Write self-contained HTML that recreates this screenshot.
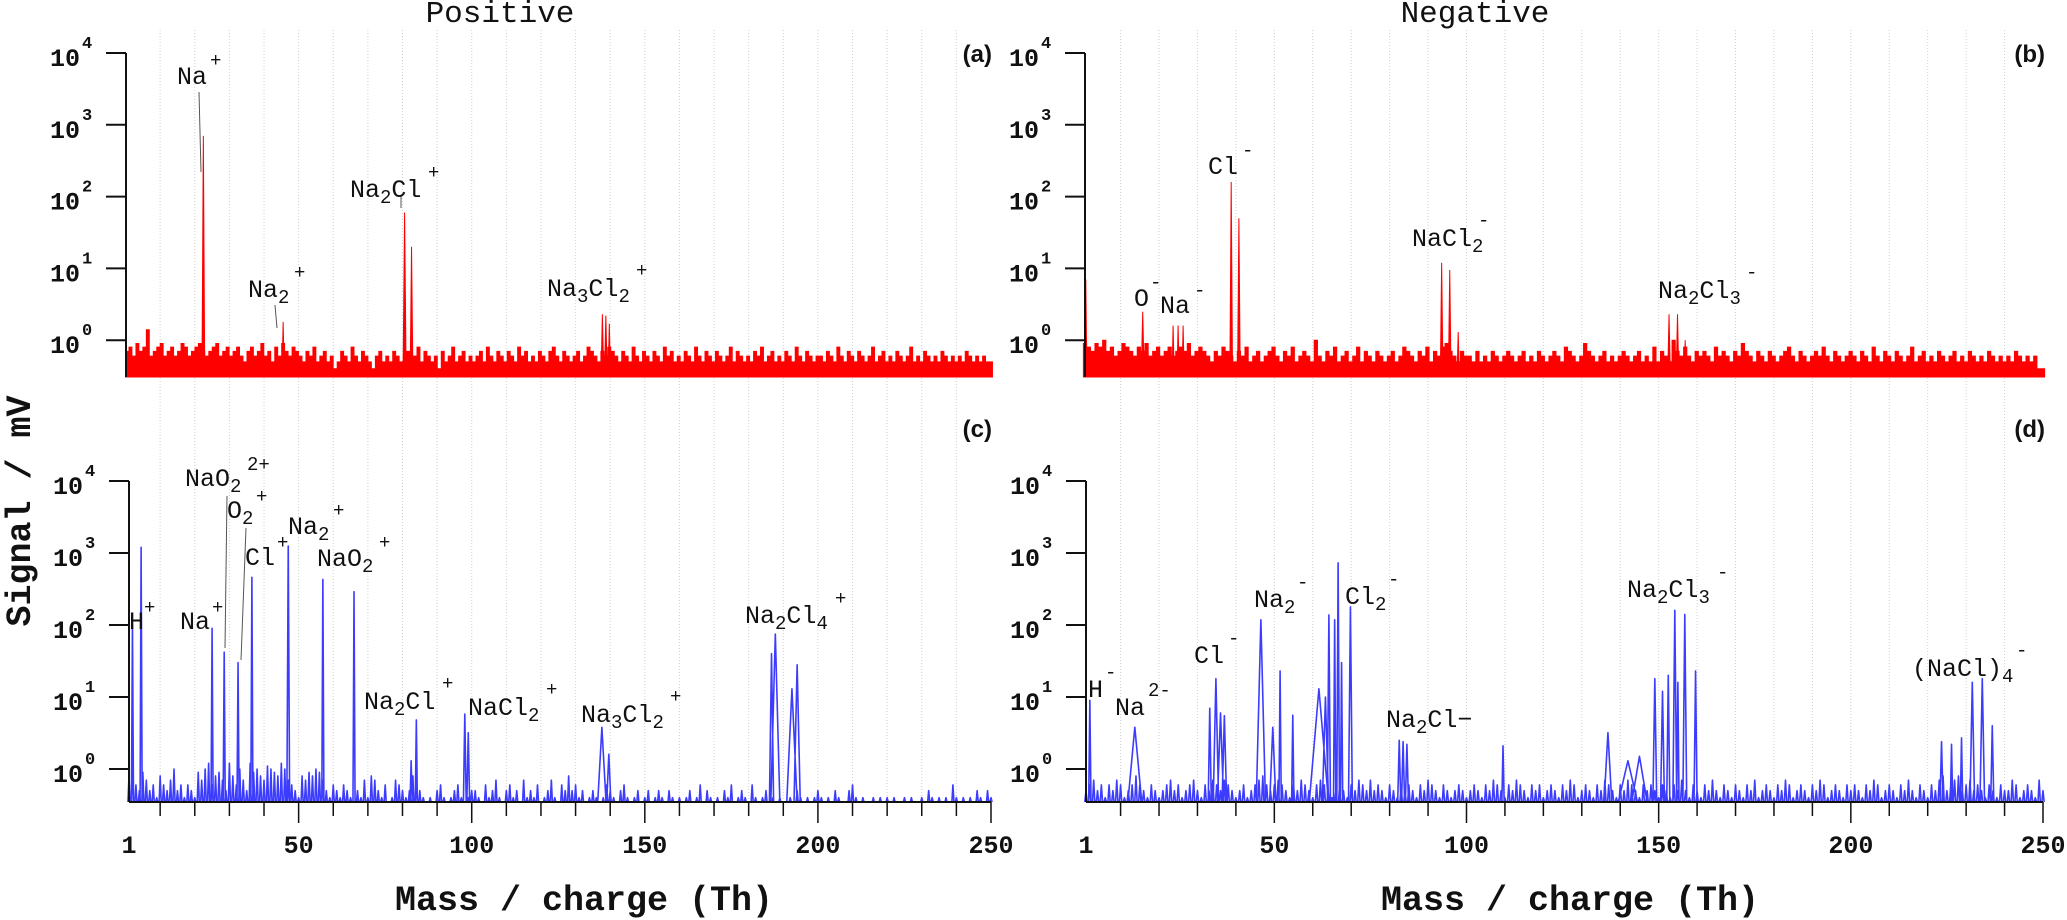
<!DOCTYPE html>
<html><head><meta charset="utf-8">
<style>
html,body{margin:0;padding:0;background:#fff;}
svg{display:block;}
.lab{font-family:"Liberation Mono",monospace;font-size:25px;fill:#111;}
.sup{font-family:"Liberation Mono",monospace;font-size:19px;fill:#111;}
.ytk{font-family:"Liberation Mono",monospace;font-weight:bold;font-size:25px;fill:#111;}
.yex{font-family:"Liberation Mono",monospace;font-weight:bold;font-size:17px;fill:#111;}
.xtk{font-family:"Liberation Mono",monospace;font-weight:bold;font-size:25px;fill:#111;}
.ttl{font-family:"Liberation Mono",monospace;font-size:31px;fill:#111;}
.axt{font-family:"Liberation Mono",monospace;font-weight:bold;font-size:35px;fill:#111;}
.pl{font-family:"Liberation Sans",sans-serif;font-weight:bold;font-size:24px;fill:#111;}
</style></head>
<body>
<svg id="fig" width="2067" height="920" viewBox="0 0 2067 920" xmlns="http://www.w3.org/2000/svg">
<g id="grid"></g>
<g id="marks"></g>
<g id="axes"></g>

<text class="ttl" x="500" y="22" text-anchor="middle">Positive</text>
<text class="ttl" x="1475" y="22" text-anchor="middle">Negative</text>
<text class="axt" transform="translate(30,511) rotate(-90)" text-anchor="middle">Signal / mV</text>
<text class="axt" x="584" y="910" text-anchor="middle">Mass / charge (Th)</text>
<text class="axt" x="1570" y="910" text-anchor="middle">Mass / charge (Th)</text>
<text class="pl" x="992" y="62" text-anchor="end">(a)</text>
<text class="pl" x="2045" y="62" text-anchor="end">(b)</text>
<text class="pl" x="992" y="437" text-anchor="end">(c)</text>
<text class="pl" x="2045" y="437" text-anchor="end">(d)</text>

<g stroke="#555" stroke-width="1">
<line x1="199" y1="92" x2="201" y2="172"/>
<line x1="275" y1="305" x2="277" y2="328"/>
<line x1="401" y1="196" x2="401" y2="208"/>
<line x1="227" y1="496" x2="225" y2="648"/>
<line x1="246" y1="528" x2="241" y2="660"/>
</g>
<g>
<text class="lab" x="177" y="84">Na</text><text class="sup" x="210" y="66">+</text>
<text class="lab" x="248" y="297">Na<tspan class="sup" dy="6">2</tspan></text><text class="sup" x="294" y="278">+</text>
<text class="lab" x="350" y="197">Na<tspan class="sup" dy="6">2</tspan><tspan dy="-6">Cl</tspan></text><text class="sup" x="428" y="178">+</text>
<text class="lab" x="547" y="296">Na<tspan class="sup" dy="6">3</tspan><tspan dy="-6">Cl</tspan><tspan class="sup" dy="6">2</tspan></text><text class="sup" x="636" y="276">+</text>
</g>
<g>
<text class="lab" x="1134" y="306">O</text><text class="sup" x="1150" y="288">-</text>
<text class="lab" x="1160" y="313">Na</text><text class="sup" x="1194" y="296">-</text>
<text class="lab" x="1208" y="174">Cl</text><text class="sup" x="1242" y="156">-</text>
<text class="lab" x="1412" y="246">NaCl<tspan class="sup" dy="6">2</tspan></text><text class="sup" x="1478" y="226">-</text>
<text class="lab" x="1658" y="298">Na<tspan class="sup" dy="6">2</tspan><tspan dy="-6">Cl</tspan><tspan class="sup" dy="6">3</tspan></text><text class="sup" x="1746" y="278">-</text>
</g>
<g>
<text class="lab" x="129" y="629">H</text><text class="sup" x="144" y="613">+</text>
<text class="lab" x="180" y="629">Na</text><text class="sup" x="212" y="613">+</text>
<text class="lab" x="185" y="486">NaO<tspan class="sup" dy="6">2</tspan></text><text class="sup" x="247" y="470">2+</text>
<text class="lab" x="227" y="518">O<tspan class="sup" dy="6">2</tspan></text><text class="sup" x="256" y="502">+</text>
<text class="lab" x="245" y="565">Cl</text><text class="sup" x="277" y="548">+</text>
<text class="lab" x="288" y="534">Na<tspan class="sup" dy="6">2</tspan></text><text class="sup" x="333" y="516">+</text>
<text class="lab" x="317" y="566">NaO<tspan class="sup" dy="6">2</tspan></text><text class="sup" x="379" y="548">+</text>
<text class="lab" x="364" y="709">Na<tspan class="sup" dy="6">2</tspan><tspan dy="-6">Cl</tspan></text><text class="sup" x="442" y="689">+</text>
<text class="lab" x="468" y="715">NaCl<tspan class="sup" dy="6">2</tspan></text><text class="sup" x="546" y="695">+</text>
<text class="lab" x="581" y="722">Na<tspan class="sup" dy="6">3</tspan><tspan dy="-6">Cl</tspan><tspan class="sup" dy="6">2</tspan></text><text class="sup" x="670" y="702">+</text>
<text class="lab" x="745" y="623">Na<tspan class="sup" dy="6">2</tspan><tspan dy="-6">Cl</tspan><tspan class="sup" dy="6">4</tspan></text><text class="sup" x="835" y="604">+</text>
</g>
<g>
<text class="lab" x="1088" y="697">H</text><text class="sup" x="1105" y="678">-</text>
<text class="lab" x="1115" y="715">Na</text><text class="sup" x="1148" y="696">2-</text>
<text class="lab" x="1194" y="663">Cl</text><text class="sup" x="1228" y="644">-</text>
<text class="lab" x="1254" y="607">Na<tspan class="sup" dy="6">2</tspan></text><text class="sup" x="1297" y="588">-</text>
<text class="lab" x="1345" y="604">Cl<tspan class="sup" dy="6">2</tspan></text><text class="sup" x="1388" y="585">-</text>
<text class="lab" x="1386" y="727">Na<tspan class="sup" dy="6">2</tspan><tspan dy="-6">Cl−</tspan></text>
<text class="lab" x="1627" y="597">Na<tspan class="sup" dy="6">2</tspan><tspan dy="-6">Cl</tspan><tspan class="sup" dy="6">3</tspan></text><text class="sup" x="1717" y="578">-</text>
<text class="lab" x="1912" y="676">(NaCl)<tspan class="sup" dy="6">4</tspan></text><text class="sup" x="2016" y="656">-</text>
</g>
</svg>
<script>
// ---- data (noise in units of 0.1 mV, one value per integer m/z starting at 1) ----
const noiseA = [7,8,6,9,7,8,14,6,7,8,9,6,7,8,6,7,9,8,6,7,8,9,7,6,7,8,9,6,7,8,6,7,8,6,5,7,8,6,7,9,6,7,5,8,6,9,7,6,8,7,
6,5,7,6,8,5,6,7,5,6,4,5,7,6,5,8,6,5,7,6,5,4,6,7,5,6,5,7,6,5,6,7,5,6,8,5,7,6,5,6,4,7,5,6,8,5,6,7,5,6,
5,6,7,5,8,6,5,7,6,5,7,6,5,8,6,7,5,6,5,7,6,5,7,8,6,5,7,6,5,6,7,5,6,8,7,6,5,7,6,8,7,6,5,7,6,5,8,6,5,7,
6,5,7,6,5,8,6,7,5,6,5,7,6,5,8,6,5,7,6,5,7,6,5,6,8,5,7,6,5,6,5,7,6,8,5,6,7,5,6,5,7,6,5,8,6,5,7,6,5,6,
6,5,7,6,5,8,6,5,7,6,5,7,6,5,6,8,5,6,7,5,6,5,7,6,5,6,8,5,6,5,7,6,5,6,5,7,6,5,6,5,6,5,7,6,5,6,5,6,5,5];
const noiseB = [9,8,7,9,8,10,7,8,6,7,9,8,7,6,8,7,9,6,7,8,6,7,8,6,7,8,7,9,6,7,8,7,6,5,7,6,8,7,6,5,7,6,8,5,6,7,5,6,7,8,
6,5,7,6,8,5,6,7,6,5,10,6,5,7,6,8,5,6,7,5,6,8,5,7,6,5,7,6,5,6,7,5,6,8,7,6,5,7,6,8,5,7,6,8,9,7,6,5,7,6,
6,5,7,5,6,5,7,6,5,6,7,6,5,6,7,5,6,5,7,6,5,6,7,6,5,8,7,6,5,6,9,7,6,5,6,7,5,6,5,6,7,6,5,6,7,5,6,5,8,5,
7,6,5,10,7,6,8,6,5,7,6,7,6,5,8,6,7,6,5,7,6,9,7,6,5,7,6,5,7,6,5,6,7,8,6,5,7,6,5,6,7,6,8,6,5,7,6,5,6,7,
6,5,7,6,5,8,6,5,7,6,5,7,6,5,6,8,5,6,7,5,6,5,7,6,5,6,7,5,6,5,7,6,5,6,5,7,6,5,6,5,6,5,7,6,5,6,5,6,4,4];
const noiseC = [8,12,6,5,9,7,5,6,4,8,6,5,7,10,5,6,4,6,5,4,9,7,10,12,6,8,9,7,5,12,8,6,10,7,5,12,9,10,8,7,11,10,9,8,12,10,7,6,5,4,
8,7,9,8,10,9,7,5,4,6,5,4,6,5,4,3,5,4,7,4,8,7,5,4,6,3,4,7,6,5,4,5,8,6,5,4,3,4,3,5,6,4,3,4,5,6,4,3,4,5,
5,4,3,6,4,5,7,4,3,5,6,4,5,3,7,4,5,4,6,3,4,5,7,4,3,6,5,8,5,6,4,5,3,4,5,4,3,4,6,5,4,3,5,6,4,3,4,5,3,4,
5,3,4,5,4,3,5,4,3,4,3,4,5,3,4,6,3,5,4,3,4,3,5,4,6,3,4,5,4,3,6,4,3,4,5,3,4,3,4,3,3,4,3,5,4,3,4,3,4,5,
4,3,4,3,5,4,3,3,5,6,4,3,4,3,3,4,3,4,3,4,3,4,3,3,4,3,4,3,3,4,3,5,4,3,4,3,4,3,6,4,3,4,3,4,3,5,4,3,5,4];
const noiseD = [5,6,7,5,6,4,6,5,7,6,4,5,6,8,6,5,4,6,5,4,5,6,7,5,6,4,5,6,7,5,4,6,5,7,6,5,7,6,5,4,5,6,4,5,6,7,8,6,5,6,
7,6,5,4,6,5,7,6,5,4,6,7,6,5,4,5,6,5,4,6,5,7,6,5,7,5,6,5,4,6,5,4,6,5,6,5,4,6,5,7,6,5,4,6,5,4,5,6,5,4,
5,6,5,4,6,5,7,6,5,4,6,5,7,6,5,4,6,5,6,4,5,6,5,4,6,5,7,6,4,5,6,5,4,6,5,7,6,5,4,6,5,7,6,5,4,6,5,6,5,4,
6,5,4,6,5,7,5,4,6,5,4,6,5,7,5,4,6,5,4,6,5,4,6,5,7,4,5,6,5,4,6,5,7,6,4,5,6,5,4,6,5,7,6,4,5,6,5,4,6,5,
6,5,4,6,5,7,6,4,5,6,5,4,6,5,7,5,4,6,5,4,6,5,7,8,5,6,7,8,5,6,7,5,6,5,4,6,5,4,6,5,5,7,6,4,5,6,5,4,7,5];

// peaks: m/z, signal (mV), half-width (m/z)
const peakMassA = [23,46,81,83,138,139,140];
const peakValA  = [700,1.8,60,20,2.3,2.2,1.7];
const peakWidA  = [0.4,0.35,0.45,0.4,0.4,0.4,0.35];

const peakMassB = [1.2,16,23.9,25.2,26.5,39,41,93.7,95.8,98,152.8,155,157];
const peakValB  = [7,2.5,1.6,1.6,1.6,160,50,12,9.5,1.3,2.3,2.3,1.0];
const peakWidB  = [0.3,0.4,0.3,0.3,0.3,0.35,0.35,0.35,0.35,0.3,0.35,0.35,0.3];

const peakMassC = [2,4.5,25,28.5,32.5,36.5,47,57,66,82.5,84,98,99,137.6,139.6,186.6,187.7,192.5,194];
const peakValC  = [100,1200,90,42,30,460,1250,430,290,1.3,4.8,5.8,3.2,3.8,1.6,40,75,13,28];
const peakWidC  = [0.3,0.3,0.3,0.3,0.3,0.3,0.4,0.3,0.3,0.3,0.3,0.4,0.4,1.2,0.6,0.6,1.3,1.5,0.9];

const peakMassD = [2,13.7,33.2,34.8,36,37,46.5,49.6,51.5,54.8,61.6,63.3,64.2,65.7,66.6,67.5,69.8,82.5,83.5,84.5,109.5,136.8,142,145,149,151,152.5,154.2,155,156.8,159.6,223.6,226.2,228.8,231.6,234.2,236.8];
const peakValD  = [9,3.8,7,18,6,5.5,118,3.8,23,5.6,13,10,138,118,730,30,178,2.5,2.4,2.2,2.1,3.2,1.3,1.5,18,12,20,160,16,140,23,2.4,2.2,2.7,16,18,4];
const peakWidD  = [0.3,1.8,0.4,0.7,0.8,0.6,1.2,0.8,0.3,0.3,2.5,0.8,0.4,0.3,0.35,0.3,0.5,0.4,0.4,0.4,0.3,1.0,2.5,2,0.5,0.5,0.4,0.5,0.3,0.5,0.4,0.4,0.3,0.3,0.6,0.6,0.4];

const xTicks = [50,100,150,200,250];
const xTickLabels = ["50","100","150","200","250"];
const yExps = [0,1,2,3,4];

// ---- layout ----
const NS = "http://www.w3.org/2000/svg";
const panels = [
  {id:"a", x0:127, x1:991, y4:53, dec:71.8, bottom:377, fill:true, color:"#ff0000", noise:noiseA, pm:peakMassA, pv:peakValA, pw:peakWidA, axisX:126, xaxis:false},
  {id:"b", x0:1085, x1:2043, y4:53, dec:71.8, bottom:377, fill:true, color:"#ff0000", noise:noiseB, pm:peakMassB, pv:peakValB, pw:peakWidB, axisX:1085, xaxis:false},
  {id:"c", x0:129, x1:991, y4:481, dec:72, bottom:802, fill:false, color:"#3c3cff", noise:noiseC, pm:peakMassC, pv:peakValC, pw:peakWidC, axisX:129, xaxis:true},
  {id:"d", x0:1086, x1:2043, y4:481, dec:72, bottom:802, fill:false, color:"#3c3cff", noise:noiseD, pm:peakMassD, pv:peakValD, pw:peakWidD, axisX:1086, xaxis:true}
];
function xs(p,m){return p.x0+(m-1)*(p.x1-p.x0)/249;}
function ys(p,v){const y=p.y4+(4-Math.log10(v))*p.dec;return Math.min(y,p.bottom);}
function mk(tag,attrs,parent){const e=document.createElementNS(NS,tag);for(const k in attrs)e.setAttribute(k,attrs[k]);parent.appendChild(e);return e;}

const grid=document.getElementById("grid"), marks=document.getElementById("marks"), axes=document.getElementById("axes");

[panels[2],panels[3]].forEach(p=>{
  for(let m=10;m<250;m+=10){
    const l=mk("line",{x1:xs(p,m),x2:xs(p,m),y1:30,y2:p.bottom,stroke:"#d0d0d0","stroke-width":1,"stroke-dasharray":"1,2"},grid);
    
    
  }
});

panels.forEach(p=>{
  const g=mk("g",{},marks);
  
  
  let d="";
  if(p.fill){
    p.noise.forEach((n,i)=>{
      const v=n/10, m=i+1, y=ys(p,v);
      if(y>=p.bottom) return;
      const xa=xs(p,m-0.42), xb=xs(p,m+0.42);
      d+=`M${xa},${p.bottom}L${xa},${y}L${xb},${y}L${xb},${p.bottom}Z`;
    });
    p.pm.forEach((m,i)=>{
      d+=`M${xs(p,m-p.pw[i])},${p.bottom}L${xs(p,m)},${ys(p,p.pv[i])}L${xs(p,m+p.pw[i])},${p.bottom}Z`;
    });
    const path=mk("path",{d:d,fill:p.color,stroke:p.color,"stroke-width":1},g);
    
    
  } else {
    p.noise.forEach((n,i)=>{
      const v=n/10, m=i+1, y=ys(p,v);
      if(y>=p.bottom-0.5) return;
      d+=`M${xs(p,m-0.3)},${p.bottom}L${xs(p,m)},${y}L${xs(p,m+0.3)},${p.bottom}`;
    });
    p.pm.forEach((m,i)=>{
      d+=`M${xs(p,m-p.pw[i])},${p.bottom}L${xs(p,m)},${ys(p,p.pv[i])}L${xs(p,m+p.pw[i])},${p.bottom}`;
    });
    const path=mk("path",{d:d,fill:"none",stroke:p.color,"stroke-width":1.6,"stroke-linejoin":"round"},g);
    
    
  }

  const ya=mk("line",{x1:p.axisX,x2:p.axisX,y1:p.y4,y2:p.bottom,stroke:"#111","stroke-width":2},axes);
  
  
  yExps.forEach(e=>{
    const y=p.y4+(4-e)*p.dec;
    const t=mk("line",{x1:p.axisX-20,x2:p.axisX,y1:y,y2:y,stroke:"#111","stroke-width":2},axes);
    
    
    const tx=mk("text",{x:p.axisX-76,y:y+13,class:"ytk"},axes);
    tx.textContent="10";
    
    
    const ex=mk("text",{x:p.axisX-44,y:y-5,class:"yex"},axes);
    ex.textContent=String(e);
    
    
  });

  if(p.xaxis){
    const xa=mk("line",{x1:p.axisX,x2:p.x1,y1:p.bottom,y2:p.bottom,stroke:"#111","stroke-width":2},axes);
    
    
    for(let m=10;m<=250;m+=10){
      const major=(m%50===0);
      const t=mk("line",{x1:xs(p,m),x2:xs(p,m),y1:p.bottom,y2:p.bottom+(major?21:14),stroke:"#111","stroke-width":1.5},axes);
      
      
    }
    const one=mk("text",{x:xs(p,1),y:p.bottom+51,class:"xtk","text-anchor":"middle"},axes);
    one.textContent="1";
    
    
    xTicks.forEach((m,i)=>{
      const tx=mk("text",{x:xs(p,m),y:p.bottom+51,class:"xtk","text-anchor":"middle"},axes);
      tx.textContent=xTickLabels[i];
      
      
    });
  }
});
</script>
</body></html>
